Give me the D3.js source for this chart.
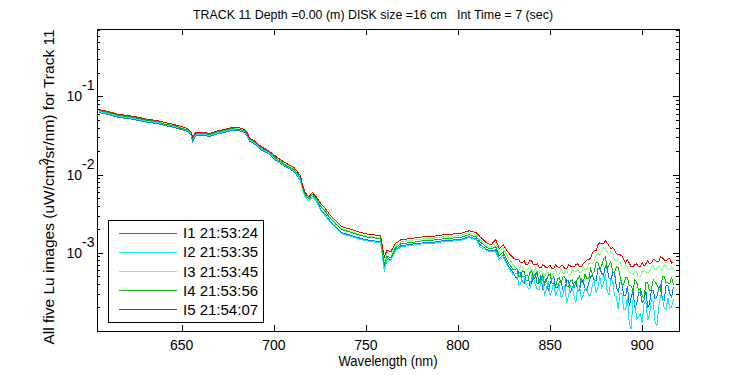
<!DOCTYPE html>
<html>
<head>
<meta charset="utf-8">
<script src="https://cdn.jsdelivr.net/npm/d3@7"></script>
<style>
  body { margin: 0; background: #fff; }
  svg { font-family: Arial, "Liberation Sans", sans-serif; }
</style>
</head>
<body>
<div id="chart"></div>
<script>
// Lu spectra for Track 11, five images

const wavelength = [
  605, 610, 616, 621, 627, 632, 637, 641, 646, 650, 653, 655, 656, 657.5, 660, 663, 665, 668, 673, 677, 681, 684, 685.5, 687, 688.5, 690, 693, 697,
  702, 706, 711, 714.5, 715.5, 717, 719, 721, 723, 725.5, 728, 730, 733.5, 737, 741, 746, 750, 754, 758,
  759, 760, 761.5, 763.5, 766, 769, 773, 777, 781, 785, 788, 792, 795, 798, 801, 804, 806, 810, 812, 816, 818, 820.5, 822.5, 824.5, 827, 830,
  832, 833, 834, 835, 836, 837, 838, 839, 840, 841, 842, 843, 844, 845, 846, 847, 848, 849, 850, 851, 852, 853, 854, 855, 856, 857, 858, 859,
  860, 861, 862, 863, 864, 865, 866, 867, 868, 869, 870, 871, 872, 873, 874, 875, 876, 877, 878, 879, 880, 881, 882, 883, 884, 885, 886, 887, 888,
  889, 890, 891, 892, 893, 894, 895, 896, 897, 898, 899, 900, 901, 902, 903, 904, 905, 906, 907, 908, 909, 910, 911, 912, 913, 914, 915, 916, 917
];

const luI1 = [
  0.0624, 0.0588, 0.0538, 0.0522, 0.0492, 0.0464, 0.0451, 0.0425, 0.0400, 0.0377, 0.0356, 0.0326, 0.0265, 0.0316, 0.0316, 0.0316, 0.0307, 0.0326, 0.0346, 0.0367, 0.0367, 0.0346, 0.0316, 0.0265, 0.0257, 0.0242, 0.0209, 0.0186,
  0.0147, 0.0128, 0.0110, 0.00838, 0.00662, 0.00522, 0.00464, 0.00522, 0.00464, 0.00356, 0.00307, 0.00265, 0.00215, 0.00181, 0.00170, 0.00156, 0.00147, 0.00143, 0.00138,
  0.000943, 0.000662, 0.000863, 0.000813, 0.00109, 0.00123, 0.00127, 0.00131, 0.00134, 0.00134, 0.00138, 0.00143, 0.00143, 0.00147, 0.00147, 0.00156, 0.00160, 0.00151, 0.00127, 0.00109, 0.00106, 0.00109, 0.000838, 0.000943, 0.000702, 0.000554,
  0.000464, 0.000571, 0.000554, 0.000425, 0.000413, 0.000507, 0.000507, 0.000389, 0.000413, 0.000507, 0.000538, 0.000400, 0.000413, 0.000522, 0.000346, 0.000389, 0.000478, 0.000326, 0.000400, 0.000464, 0.000492, 0.000356, 0.000356, 0.000425, 0.000413, 0.000335, 0.000326, 0.000451,
  0.000438, 0.000307, 0.000356, 0.000413, 0.000438, 0.000335, 0.000326, 0.000464, 0.000425, 0.000356, 0.000326, 0.000413, 0.000492, 0.000522, 0.000438, 0.000438, 0.000642, 0.000624, 0.000554, 0.000507, 0.000681, 0.000624, 0.000478, 0.000451, 0.000554, 0.000554, 0.000367, 0.000316, 0.000425,
  0.000400, 0.000281, 0.000281, 0.000377, 0.000209, 0.000265, 0.000326, 0.000203, 0.000222, 0.000307, 0.000316, 0.000229, 0.000250, 0.000326, 0.000203, 0.000222, 0.000335, 0.000326, 0.000257, 0.000273, 0.000346, 0.000389, 0.000257, 0.000250, 0.000389, 0.000377, 0.000298, 0.000273, 0.000367
];

const luI2 = [
  0.0642, 0.0605, 0.0554, 0.0538, 0.0507, 0.0478, 0.0464, 0.0438, 0.0413, 0.0389, 0.0367, 0.0335, 0.0281, 0.0326, 0.0326, 0.0326, 0.0316, 0.0335, 0.0356, 0.0377, 0.0377, 0.0356, 0.0326, 0.0273, 0.0265, 0.0250, 0.0215, 0.0191,
  0.0151, 0.0131, 0.0113, 0.00863, 0.00662, 0.00522, 0.00464, 0.00522, 0.00464, 0.00346, 0.00298, 0.00257, 0.00209, 0.00175, 0.00165, 0.00151, 0.00143, 0.00138, 0.00134,
  0.000889, 0.000571, 0.000838, 0.000790, 0.00106, 0.00119, 0.00123, 0.00127, 0.00131, 0.00131, 0.00134, 0.00138, 0.00138, 0.00143, 0.00143, 0.00151, 0.00156, 0.00147, 0.00119, 0.00106, 0.00103, 0.00103, 0.000790, 0.000889, 0.000662, 0.000522,
  0.000554, 0.000389, 0.000400, 0.000507, 0.000492, 0.000389, 0.000356, 0.000335, 0.000507, 0.000478, 0.000389, 0.000346, 0.000335, 0.000425, 0.000478, 0.000281, 0.000346, 0.000438, 0.000281, 0.000326, 0.000425, 0.000281, 0.000335, 0.000377, 0.000265, 0.000289, 0.000389, 0.000229,
  0.000281, 0.000377, 0.000367, 0.000281, 0.000229, 0.000389, 0.000377, 0.000250, 0.000289, 0.000346, 0.000356, 0.000281, 0.000281, 0.000400, 0.000438, 0.000307, 0.000367, 0.000507, 0.000356, 0.000400, 0.000538, 0.000326, 0.000289, 0.000464, 0.000438, 0.000281, 0.000273, 0.000191, 0.000307,
  0.000298, 0.000186, 0.000186, 0.000273, 0.000123, 0.000106, 0.000242, 0.000229, 0.000143, 0.000151, 0.000165, 0.000127, 0.000222, 0.000242, 0.000138, 0.000160, 0.000257, 0.000242, 0.000131, 0.000116, 0.000203, 0.000281, 0.000265, 0.000197, 0.000191, 0.000265, 0.000197, 0.000203, 0.000257
];

const luI3 = [
  0.0662, 0.0624, 0.0571, 0.0554, 0.0522, 0.0492, 0.0478, 0.0451, 0.0425, 0.0400, 0.0377, 0.0346, 0.0289, 0.0335, 0.0335, 0.0335, 0.0326, 0.0346, 0.0367, 0.0389, 0.0389, 0.0367, 0.0335, 0.0281, 0.0273, 0.0257, 0.0222, 0.0197,
  0.0160, 0.0138, 0.0119, 0.00943, 0.00723, 0.00571, 0.00507, 0.00571, 0.00507, 0.00400, 0.00346, 0.00298, 0.00242, 0.00203, 0.00191, 0.00175, 0.00165, 0.00160, 0.00156,
  0.00109, 0.000813, 0.00100, 0.000943, 0.00123, 0.00138, 0.00143, 0.00147, 0.00151, 0.00151, 0.00156, 0.00160, 0.00160, 0.00165, 0.00165, 0.00175, 0.00181, 0.00170, 0.00147, 0.00123, 0.00119, 0.00134, 0.00103, 0.00116, 0.000889, 0.000702,
  0.000624, 0.000588, 0.000681, 0.000662, 0.000571, 0.000588, 0.000624, 0.000662, 0.000588, 0.000554, 0.000642, 0.000554, 0.000538, 0.000588, 0.000554, 0.000492, 0.000571, 0.000554, 0.000492, 0.000507, 0.000571, 0.000605, 0.000522, 0.000538, 0.000624, 0.000538, 0.000554, 0.000605,
  0.000522, 0.000522, 0.000605, 0.000588, 0.000571, 0.000605, 0.000554, 0.000554, 0.000662, 0.000605, 0.000624, 0.000723, 0.000723, 0.000723, 0.000790, 0.000915, 0.00100, 0.000915, 0.00103, 0.00116, 0.00113, 0.00103, 0.000971, 0.00103, 0.00100, 0.000790, 0.000790, 0.000813, 0.000767,
  0.000662, 0.000624, 0.000702, 0.000662, 0.000571, 0.000554, 0.000522, 0.000571, 0.000571, 0.000492, 0.000492, 0.000588, 0.000571, 0.000571, 0.000554, 0.000571, 0.000662, 0.000681, 0.000605, 0.000624, 0.000681, 0.000624, 0.000605, 0.000702, 0.000681, 0.000605, 0.000605, 0.000662, 0.000605
];

const luI4 = [
  0.0662, 0.0624, 0.0571, 0.0554, 0.0522, 0.0492, 0.0478, 0.0438, 0.0425, 0.0389, 0.0377, 0.0346, 0.0289, 0.0335, 0.0335, 0.0335, 0.0326, 0.0346, 0.0367, 0.0389, 0.0377, 0.0367, 0.0335, 0.0281, 0.0273, 0.0257, 0.0222, 0.0197,
  0.0156, 0.0134, 0.0116, 0.00915, 0.00702, 0.00554, 0.00492, 0.00554, 0.00492, 0.00389, 0.00335, 0.00289, 0.00235, 0.00197, 0.00186, 0.00170, 0.00160, 0.00156, 0.00151,
  0.00100, 0.000702, 0.000915, 0.000863, 0.00116, 0.00131, 0.00134, 0.00138, 0.00143, 0.00143, 0.00147, 0.00151, 0.00151, 0.00156, 0.00156, 0.00165, 0.00170, 0.00160, 0.00138, 0.00116, 0.00113, 0.00119, 0.000915, 0.00103, 0.000767, 0.000605,
  0.000624, 0.000492, 0.000492, 0.000588, 0.000571, 0.000438, 0.000451, 0.000554, 0.000588, 0.000464, 0.000492, 0.000571, 0.000413, 0.000451, 0.000522, 0.000400, 0.000438, 0.000522, 0.000538, 0.000413, 0.000400, 0.000367, 0.000464, 0.000478, 0.000413, 0.000492, 0.000492, 0.000377,
  0.000367, 0.000438, 0.000451, 0.000356, 0.000413, 0.000464, 0.000507, 0.000413, 0.000413, 0.000538, 0.000464, 0.000464, 0.000624, 0.000538, 0.000571, 0.000744, 0.000744, 0.000624, 0.000681, 0.000838, 0.000889, 0.000642, 0.000702, 0.000767, 0.000571, 0.000554, 0.000662, 0.000642, 0.000507,
  0.000389, 0.000400, 0.000478, 0.000478, 0.000377, 0.000377, 0.000326, 0.000451, 0.000425, 0.000335, 0.000346, 0.000281, 0.000265, 0.000413, 0.000413, 0.000326, 0.000335, 0.000451, 0.000425, 0.000389, 0.000346, 0.000326, 0.000492, 0.000492, 0.000413, 0.000413, 0.000400, 0.000492, 0.000389
];

const luI5 = [
  0.0681, 0.0642, 0.0588, 0.0571, 0.0538, 0.0507, 0.0492, 0.0464, 0.0438, 0.0413, 0.0389, 0.0356, 0.0298, 0.0346, 0.0346, 0.0346, 0.0335, 0.0356, 0.0377, 0.0400, 0.0400, 0.0377, 0.0346, 0.0289, 0.0281, 0.0265, 0.0229, 0.0203,
  0.0165, 0.0143, 0.0123, 0.00971, 0.00744, 0.00588, 0.00522, 0.00588, 0.00522, 0.00425, 0.00367, 0.00316, 0.00257, 0.00215, 0.00203, 0.00186, 0.00175, 0.00170, 0.00165,
  0.00119, 0.000889, 0.00109, 0.00103, 0.00131, 0.00147, 0.00151, 0.00156, 0.00160, 0.00160, 0.00165, 0.00170, 0.00170, 0.00175, 0.00175, 0.00186, 0.00191, 0.00181, 0.00160, 0.00131, 0.00127, 0.00147, 0.00113, 0.00127, 0.00103, 0.000863,
  0.000813, 0.000813, 0.000744, 0.000744, 0.000790, 0.000702, 0.000723, 0.000790, 0.000790, 0.000702, 0.000702, 0.000723, 0.000662, 0.000642, 0.000702, 0.000681, 0.000642, 0.000662, 0.000702, 0.000624, 0.000624, 0.000702, 0.000662, 0.000642, 0.000681, 0.000681, 0.000624, 0.000624,
  0.000702, 0.000681, 0.000662, 0.000662, 0.000702, 0.000723, 0.000662, 0.000662, 0.000723, 0.000767, 0.000813, 0.000813, 0.000863, 0.00100, 0.00106, 0.00106, 0.00127, 0.00134, 0.00131, 0.00131, 0.00143, 0.00134, 0.00123, 0.00113, 0.00116, 0.00109, 0.000971, 0.000943, 0.000943,
  0.000915, 0.000813, 0.000744, 0.000813, 0.000744, 0.000662, 0.000662, 0.000702, 0.000723, 0.000662, 0.000662, 0.000744, 0.000681, 0.000723, 0.000790, 0.000723, 0.000744, 0.000813, 0.000813, 0.000767, 0.000767, 0.000889, 0.000863, 0.000813, 0.000790, 0.000838, 0.000838, 0.000744, 0.000767
];

const seriesNames = ["I1 21:53:24", "I2 21:53:35", "I3 21:53:45", "I4 21:53:56", "I5 21:54:07"];
const seriesColors = ["#0080ff", "#00f0ff", "#80ff80", "#00c000", "#ff0000"];
const seriesValues = [luI1, luI2, luI3, luI4, luI5];

const xTicks = [650, 700, 750, 800, 850, 900];
const yTickExponents = [-3, -2, -1];
const xDomain = [604, 920];
const yDomain = [1e-4, 0.73];

const titleText = "TRACK 11 Depth =0.00 (m) DISK size =16 cm\u00a0\u00a0\u00a0Int Time = 7 (sec)";
const xLabel = "Wavelength (nm)";

const width = 750, height = 375;
const margin = { top: 29, right: 71, bottom: 44, left: 97 };
const plotW = width - margin.left - margin.right;
const plotH = height - margin.top - margin.bottom;

const svg = d3.select("#chart").append("svg")
  .attr("width", width)
  .attr("height", height);

const g = svg.append("g")
  .attr("transform", `translate(${margin.left},${margin.top})`);

const x = d3.scaleLinear().domain(xDomain).range([0, plotW]);
const y = d3.scaleLog().domain(yDomain).range([plotH, 0]);

svg.append("defs").append("clipPath").attr("id", "plot-clip")
  .append("rect").attr("width", plotW).attr("height", plotH);

// spectra, I1 first so I5 ends on top
const line = d3.line()
  .x(d => x(d[0]))
  .y(d => y(d[1]));

const lines = g.append("g").attr("clip-path", "url(#plot-clip)");
seriesValues.forEach((vals, i) => {
  lines.append("path")
    .datum(wavelength.map((w, j) => [w, vals[j]]))
    .attr("fill", "none")
    .attr("stroke", seriesColors[i])
    .attr("stroke-width", 1)
    .attr("shape-rendering", "crispEdges")
    .attr("d", line);
});

// axes box
g.append("rect")
  .attr("width", plotW)
  .attr("height", plotH)
  .attr("fill", "none")
  .attr("stroke", "#000")
  .attr("shape-rendering", "crispEdges");

const ticks = g.append("g")
  .attr("stroke", "#000")
  .attr("shape-rendering", "crispEdges");

xTicks.forEach(t => {
  const px = Math.round(x(t)) + 0.5;
  ticks.append("line").attr("x1", px).attr("x2", px).attr("y1", plotH).attr("y2", plotH - 6);
  ticks.append("line").attr("x1", px).attr("x2", px).attr("y1", 0).attr("y2", 6);
});

// log ticks: majors at decades, minors at 2..9
const logTicks = [];
for (let e = -4; e <= -1; e++) {
  for (let k = 1; k <= 9; k++) {
    const v = k * Math.pow(10, e);
    if (v >= yDomain[0] && v <= yDomain[1]) logTicks.push({ v, major: k === 1 });
  }
}
logTicks.forEach(t => {
  const py = Math.round(y(t.v)) + 0.5;
  const len = t.major ? 6 : 3;
  ticks.append("line").attr("x1", 0).attr("x2", len).attr("y1", py).attr("y2", py);
  ticks.append("line").attr("x1", plotW).attr("x2", plotW - len).attr("y1", py).attr("y2", py);
});

// tick labels
g.selectAll(".xlab")
  .data(xTicks)
  .join("text")
  .attr("class", "xlab")
  .attr("x", d => x(d))
  .attr("y", plotH + 19)
  .attr("text-anchor", "middle")
  .attr("font-size", "14px")
  .text(d => d);

const yLab = g.selectAll(".ylab")
  .data(yTickExponents)
  .join("g")
  .attr("class", "ylab")
  .attr("transform", d => `translate(-15,${y(Math.pow(10, d))})`);
yLab.append("text")
  .attr("text-anchor", "end")
  .attr("y", 5)
  .attr("font-size", "14px")
  .text("10");
yLab.append("text")
  .attr("x", 0)
  .attr("y", -6)
  .attr("font-size", "14px")
  .text(d => "-" + Math.abs(d));

// titles
svg.append("text")
  .attr("x", 193)
  .attr("y", 19)
  .attr("font-size", "13.5px")
  .attr("textLength", 360)
  .attr("lengthAdjust", "spacingAndGlyphs")
  .text(titleText);

svg.append("text")
  .attr("x", margin.left + plotW / 2)
  .attr("y", 366)
  .attr("text-anchor", "middle")
  .attr("font-size", "14px")
  .attr("textLength", 99)
  .attr("lengthAdjust", "spacingAndGlyphs")
  .text(xLabel);

const yTitle = svg.append("text")
  .attr("transform", `translate(54,${margin.top + plotH / 2 + 7}) rotate(-90)`)
  .attr("text-anchor", "middle")
  .attr("font-size", "15.5px");
yTitle.append("tspan").text("All five Lu images (uW/cm");
yTitle.append("tspan").attr("dy", -6).attr("font-size", "12px").text("2");
yTitle.append("tspan").attr("dy", 6).attr("dx", -4).text("/sr/nm) for Track 11");

// legend
const legend = svg.append("g").attr("transform", "translate(108,220)");
legend.append("rect")
  .attr("width", 155)
  .attr("height", 102)
  .attr("fill", "#fff")
  .attr("stroke", "#000")
  .attr("shape-rendering", "crispEdges");

const legendRow = d3.scaleBand().domain(seriesNames).range([3, 99]);
seriesNames.forEach((name, i) => {
  const cy = legendRow(name) + legendRow.bandwidth() / 2;
  legend.append("line")
    .attr("x1", 11).attr("x2", 69)
    .attr("y1", Math.round(cy) + 0.5).attr("y2", Math.round(cy) + 0.5)
    .attr("stroke", seriesColors[i])
    .attr("stroke-width", 1)
    .attr("shape-rendering", "crispEdges");
  legend.append("text")
    .attr("x", 75)
    .attr("y", cy + 5.5)
    .attr("font-size", "15px")
    .text(name);
});
</script>
</body>
</html>
